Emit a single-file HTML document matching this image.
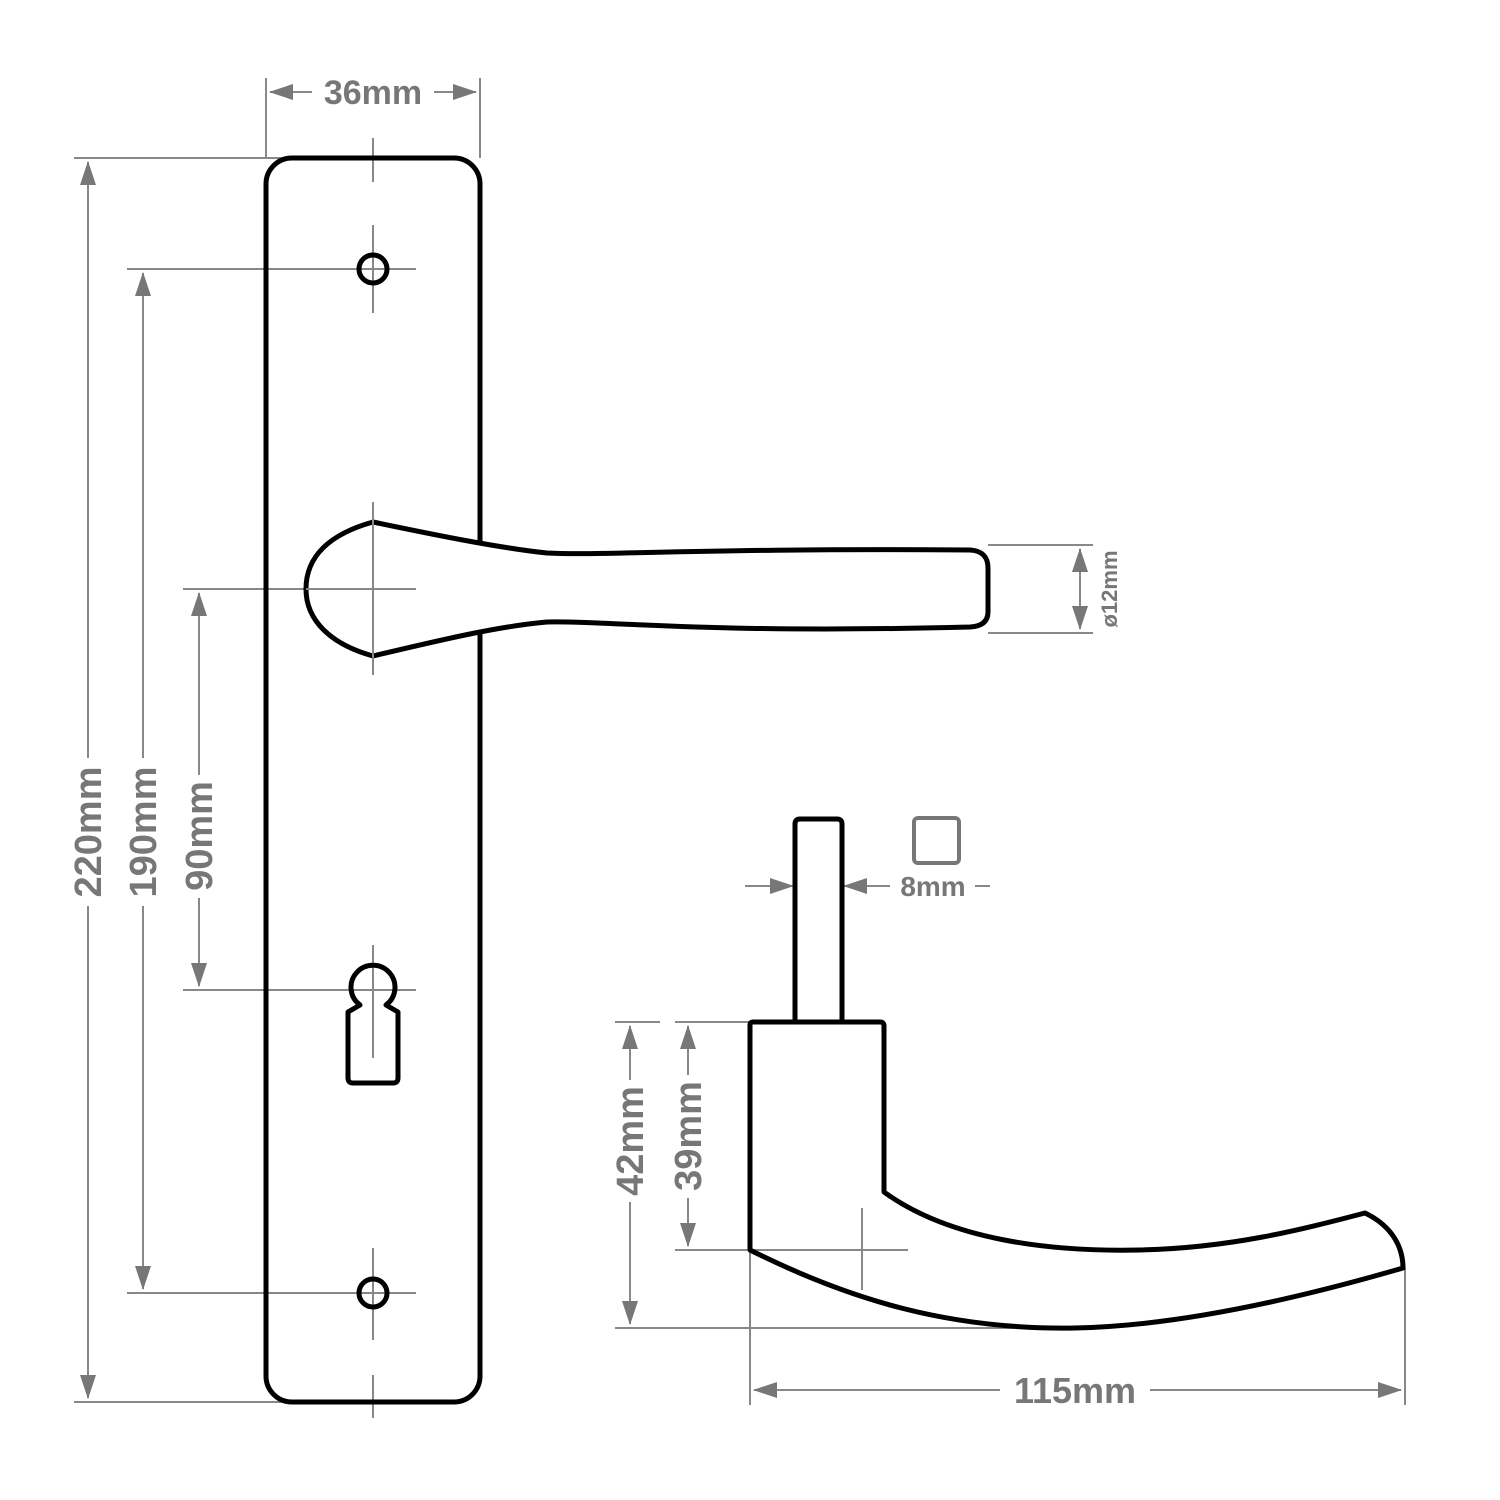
<!DOCTYPE html>
<html><head><meta charset="utf-8"><style>html,body{margin:0;padding:0;background:#fff}svg{display:block}</style></head><body>
<svg width="1500" height="1500" viewBox="0 0 1500 1500" xmlns="http://www.w3.org/2000/svg">
<defs>
<marker id="a" viewBox="0 0 24 16" refX="23" refY="8" markerWidth="24" markerHeight="16" markerUnits="userSpaceOnUse" orient="auto-start-reverse"><path d="M0,0 L24,8 L0,16 z" fill="#777"/></marker>
</defs>
<g stroke="#888" stroke-width="2" fill="none">
<!-- top 36mm -->
<line x1="266" y1="78" x2="266" y2="158"/><line x1="480" y1="78" x2="480" y2="158"/>
<line x1="270" y1="92" x2="312" y2="92" marker-start="url(#a)"/><line x1="434" y1="92" x2="476" y2="92" marker-end="url(#a)"/>
<!-- 220 -->
<line x1="74" y1="158" x2="290" y2="158"/><line x1="74" y1="1402" x2="290" y2="1402"/>
<line x1="88" y1="162" x2="88" y2="758" marker-start="url(#a)"/><line x1="88" y1="906" x2="88" y2="1398" marker-end="url(#a)"/>
<!-- 190 -->
<line x1="127" y1="269" x2="416" y2="269"/><line x1="127" y1="1293" x2="416" y2="1293"/>
<line x1="143" y1="273" x2="143" y2="758" marker-start="url(#a)"/><line x1="143" y1="906" x2="143" y2="1289" marker-end="url(#a)"/>
<!-- 90 -->
<line x1="183" y1="589" x2="416" y2="589"/><line x1="183" y1="990" x2="416" y2="990"/>
<line x1="199" y1="593" x2="199" y2="775" marker-start="url(#a)"/><line x1="199" y1="898" x2="199" y2="986" marker-end="url(#a)"/>
<!-- center verticals -->
<line x1="373" y1="138" x2="373" y2="182"/><line x1="373" y1="225" x2="373" y2="313"/>
<line x1="373" y1="502" x2="373" y2="675"/><line x1="373" y1="945" x2="373" y2="1058"/>
<line x1="373" y1="1248" x2="373" y2="1340"/><line x1="373" y1="1375" x2="373" y2="1418"/>
<!-- ø12 -->
<line x1="988" y1="545" x2="1093" y2="545"/><line x1="988" y1="633" x2="1093" y2="633"/>
<line x1="1080" y1="549" x2="1080" y2="629" marker-start="url(#a)" marker-end="url(#a)"/>
<!-- 8mm -->
<line x1="745" y1="886" x2="793" y2="886" marker-end="url(#a)"/><line x1="844" y1="886" x2="890" y2="886" marker-start="url(#a)"/>
<line x1="975" y1="886" x2="990" y2="886"/>
<!-- 42 / 39 -->
<line x1="615" y1="1022" x2="660" y2="1022"/><line x1="675" y1="1022" x2="750" y2="1022"/>
<line x1="615" y1="1328" x2="1075" y2="1328"/><line x1="675" y1="1250" x2="908" y2="1250"/>
<line x1="862" y1="1208" x2="862" y2="1290"/>
<line x1="630" y1="1026" x2="630" y2="1080" marker-start="url(#a)"/><line x1="630" y1="1202" x2="630" y2="1324" marker-end="url(#a)"/>
<line x1="688" y1="1026" x2="688" y2="1075" marker-start="url(#a)"/><line x1="688" y1="1198" x2="688" y2="1246" marker-end="url(#a)"/>
<!-- 115 -->
<line x1="750" y1="1250" x2="750" y2="1405"/><line x1="1405" y1="1268" x2="1405" y2="1405"/>
<line x1="754" y1="1390" x2="1000" y2="1390" marker-start="url(#a)"/><line x1="1150" y1="1390" x2="1401" y2="1390" marker-end="url(#a)"/>
</g>
<!-- plate -->
<rect x="266" y="158" width="214" height="1244" rx="26" fill="none" stroke="#000" stroke-width="5"/>
<circle cx="373" cy="269" r="14" fill="none" stroke="#000" stroke-width="5"/>
<circle cx="373" cy="1293" r="14" fill="none" stroke="#000" stroke-width="5"/>
<path d="M360,1005 A22,22 0 1 1 386,1005 L398,1012 L398,1078 Q398,1083 393,1083 L353,1083 Q348,1083 348,1078 L348,1012 Z" fill="none" stroke="#000" stroke-width="5" stroke-linejoin="round"/>
<!-- front handle -->
<path d="M373,522 C440,536 500,548 547,553 C600,556 700,548 970,550 Q988,551 988,568 L988,612 Q988,626 970,627 C700,634 600,620 547,622 C500,626 440,640 373,656 C330,644 306,620 306,589 C306,556 330,534 373,522 Z" fill="#fff" stroke="#000" stroke-width="5" stroke-linejoin="round"/>
<line x1="373" y1="502" x2="373" y2="675" stroke="#888" stroke-width="2"/>
<line x1="306" y1="589" x2="416" y2="589" stroke="#888" stroke-width="2"/>
<!-- side view -->
<path d="M795,1022 L795,824 Q795,819 800,819 L837,819 Q842,819 842,824 L842,1022" fill="none" stroke="#000" stroke-width="5"/>
<rect x="914" y="818" width="45" height="45" rx="4" fill="none" stroke="#777" stroke-width="4"/>
<path d="M750,1250 L750,1025 Q750,1022 753,1022 L880,1022 Q884,1022 884,1026 L884,1192 C950,1240 1050,1252 1140,1250 C1230,1248 1300,1230 1365,1213 C1390,1225 1403,1245 1403,1268 C1300,1298 1180,1326 1075,1328 C950,1330 850,1300 750,1250 Z" fill="none" stroke="#000" stroke-width="5" stroke-linejoin="round"/>
<!-- texts -->
<g font-family="Liberation Sans, sans-serif" font-weight="bold" fill="#777">
<text x="373" y="104" font-size="34" text-anchor="middle">36mm</text>
<text transform="translate(101,832) rotate(-90)" font-size="38" text-anchor="middle">220mm</text>
<text transform="translate(156,832) rotate(-90)" font-size="38" text-anchor="middle">190mm</text>
<text transform="translate(212,836) rotate(-90)" font-size="38" text-anchor="middle">90mm</text>
<text transform="translate(1117,589) rotate(-90)" font-size="22" text-anchor="middle">ø12mm</text>
<text x="933" y="896" font-size="28" text-anchor="middle">8mm</text>
<text transform="translate(643,1141) rotate(-90)" font-size="38" text-anchor="middle">42mm</text>
<text transform="translate(701,1136) rotate(-90)" font-size="38" text-anchor="middle">39mm</text>
<text x="1075" y="1403" font-size="36" text-anchor="middle">115mm</text>
</g>
</svg>
</body></html>
